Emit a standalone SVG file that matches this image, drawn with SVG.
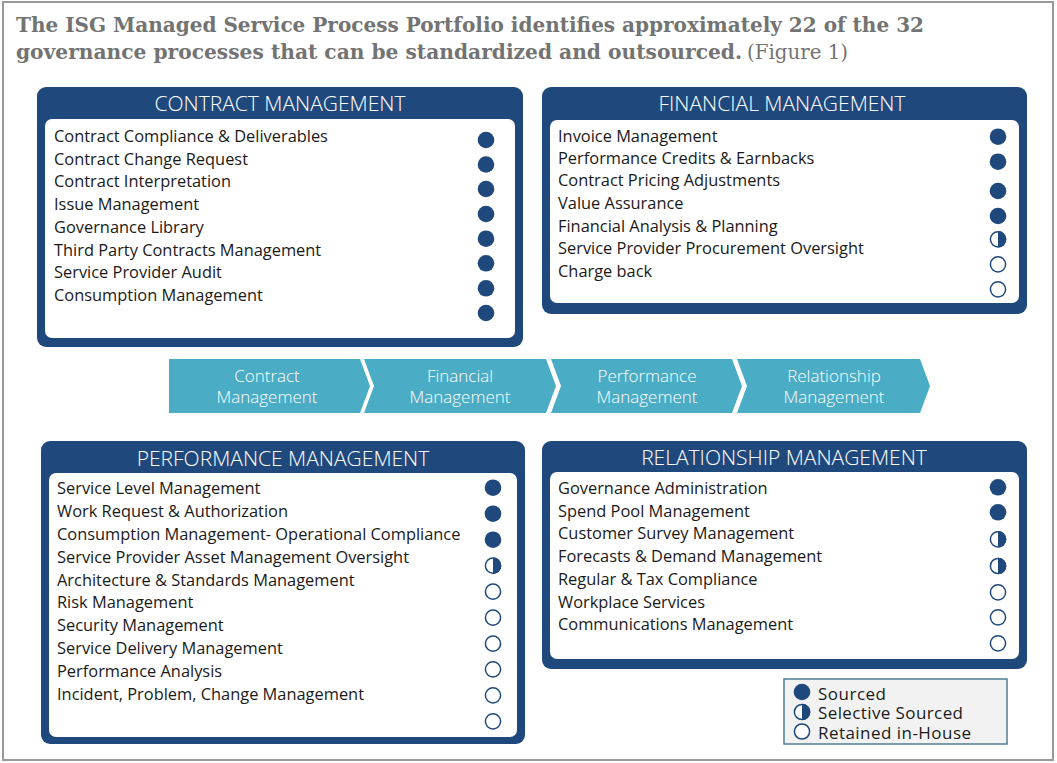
<svg xmlns="http://www.w3.org/2000/svg" xmlns:xlink="http://www.w3.org/1999/xlink" width="1057" height="763" viewBox="0 0 1057 763">
<style>
.frame{fill:#fff;stroke:#9a9a9a;stroke-width:2}
.title{font-family:"DejaVu Serif",serif;font-size:20.5px;fill:#737373;font-weight:bold}
.title .reg{font-weight:normal}
.box{fill:#1F497D}
.inner{fill:#fff}
.hd{font-family:"Open Sans",sans-serif;font-size:21px;fill:#fff;text-anchor:middle;font-weight:300}
.it{font-family:"Open Sans",sans-serif;font-size:16.4px;fill:#1a1a1a}
.f{fill:#1F497D}
.o{fill:#fff;stroke:#1F497D;stroke-width:1.5}
.chev{fill:#4BACC6}
.bt{font-family:"Open Sans",sans-serif;font-size:17px;fill:#fff;text-anchor:middle;font-weight:300}
.lgbox{fill:#f2f2f2;stroke:#4f7f90;stroke-width:1.5}
.lg{font-family:"Open Sans",sans-serif;font-size:17px;fill:#1a1a1a}
</style>
<defs>
<g id="full"><circle r="8.3" class="f"/></g>
<g id="half"><circle r="7.6" class="o"/><path d="M0,-8.3 A8.3,8.3 0 0 1 0,8.3 Z" class="f"/></g>
<g id="open"><circle r="7.6" class="o"/></g>
</defs>
<rect class="frame" x="3" y="2" width="1050" height="758"/>
<g id="title" class="title">
<text x="16" y="32" textLength="908" lengthAdjust="spacingAndGlyphs">The ISG Managed Service Process Portfolio identifies approximately 22 of the 32</text>
<text y="59"><tspan x="16" textLength="726" lengthAdjust="spacingAndGlyphs">governance processes that can be standardized and outsourced.</tspan><tspan class="reg" x="747" textLength="101" lengthAdjust="spacingAndGlyphs">(Figure 1)</tspan></text>
</g>
<g id="contract-management">
<rect class="box" x="37" y="87" width="486" height="260" rx="9"/>
<rect class="inner" x="45" y="119" width="470" height="219" rx="7"/>
<text class="hd" x="280" y="111">CONTRACT MANAGEMENT</text>
<g class="it">
<text x="54" y="141.7">Contract Compliance &amp; Deliverables</text>
<text x="54" y="164.5">Contract Change Request</text>
<text x="54" y="187.3">Contract Interpretation</text>
<text x="54" y="210">Issue Management</text>
<text x="54" y="232.8">Governance Library</text>
<text x="54" y="255.6">Third Party Contracts Management</text>
<text x="54" y="278.4">Service Provider Audit</text>
<text x="54" y="301">Consumption Management</text>
</g>
<use xlink:href="#full" x="486" y="140"/>
<use xlink:href="#full" x="486" y="164.5"/>
<use xlink:href="#full" x="486" y="189"/>
<use xlink:href="#full" x="486" y="214"/>
<use xlink:href="#full" x="486" y="238.7"/>
<use xlink:href="#full" x="486" y="263.3"/>
<use xlink:href="#full" x="486" y="288.3"/>
<use xlink:href="#full" x="486" y="313"/>
</g>
<g id="financial-management">
<rect class="box" x="542" y="87" width="485" height="227" rx="9"/>
<rect class="inner" x="550" y="120" width="469" height="183" rx="7"/>
<text class="hd" x="782" y="111">FINANCIAL MANAGEMENT</text>
<g class="it">
<text x="558" y="141.7">Invoice Management</text>
<text x="558" y="163.5">Performance Credits &amp; Earnbacks</text>
<text x="558" y="186">Contract Pricing Adjustments</text>
<text x="558" y="209">Value Assurance</text>
<text x="558" y="232">Financial Analysis &amp; Planning</text>
<text x="558" y="254.3">Service Provider Procurement Oversight</text>
<text x="558" y="276.7">Charge back</text>
</g>
<use xlink:href="#full" x="998" y="136.7"/>
<use xlink:href="#full" x="998" y="161.7"/>
<use xlink:href="#full" x="998" y="191"/>
<use xlink:href="#full" x="998" y="216"/>
<use xlink:href="#half" x="998" y="239.3"/>
<use xlink:href="#open" x="998" y="264.3"/>
<use xlink:href="#open" x="998" y="289.3"/>
</g>
<g id="process-band">
<g id="chevron-contract">
<path class="chev" d="M169,359 H360 L370,386 L360,413 H169 Z"/>
<text class="bt" x="267" y="382">Contract</text>
<text class="bt" x="267" y="403">Management</text>
</g>
<g id="chevron-financial">
<path class="chev" d="M364,359 H546 L556,386 L546,413 H364 L374,386 Z"/>
<text class="bt" x="460" y="382">Financial</text>
<text class="bt" x="460" y="403">Management</text>
</g>
<g id="chevron-performance">
<path class="chev" d="M551,359 H732 L742,386 L732,413 H551 L561,386 Z"/>
<text class="bt" x="647" y="382">Performance</text>
<text class="bt" x="647" y="403">Management</text>
</g>
<g id="chevron-relationship">
<path class="chev" d="M737,359 H920 L930,386 L920,413 H737 L747,386 Z"/>
<text class="bt" x="834" y="382">Relationship</text>
<text class="bt" x="834" y="403">Management</text>
</g>
</g>
<g id="performance-management">
<rect class="box" x="41" y="441" width="484" height="303" rx="9"/>
<rect class="inner" x="49" y="473" width="468" height="264" rx="7"/>
<text class="hd" x="283" y="466">PERFORMANCE MANAGEMENT</text>
<g class="it">
<text x="57" y="494">Service Level Management</text>
<text x="57" y="517">Work Request &amp; Authorization</text>
<text x="57" y="540">Consumption Management- Operational Compliance</text>
<text x="57" y="563">Service Provider Asset Management Oversight</text>
<text x="57" y="585.5">Architecture &amp; Standards Management</text>
<text x="57" y="608.3">Risk Management</text>
<text x="57" y="631">Security Management</text>
<text x="57" y="654">Service Delivery Management</text>
<text x="57" y="677">Performance Analysis</text>
<text x="57" y="699.5">Incident, Problem, Change Management</text>
</g>
<use xlink:href="#full" x="493" y="487.7"/>
<use xlink:href="#full" x="493" y="513.7"/>
<use xlink:href="#full" x="493" y="539.7"/>
<use xlink:href="#half" x="493" y="565.7"/>
<use xlink:href="#open" x="493" y="591.7"/>
<use xlink:href="#open" x="493" y="617.7"/>
<use xlink:href="#open" x="493" y="643.7"/>
<use xlink:href="#open" x="493" y="669.3"/>
<use xlink:href="#open" x="493" y="695.3"/>
<use xlink:href="#open" x="493" y="721.3"/>
</g>
<g id="relationship-management">
<rect class="box" x="542" y="441" width="485" height="228" rx="9"/>
<rect class="inner" x="550" y="472" width="469" height="187" rx="7"/>
<text class="hd" x="784" y="465">RELATIONSHIP MANAGEMENT</text>
<g class="it">
<text x="558" y="494">Governance Administration</text>
<text x="558" y="517">Spend Pool Management</text>
<text x="558" y="539">Customer Survey Management</text>
<text x="558" y="562">Forecasts &amp; Demand Management</text>
<text x="558" y="585">Regular &amp; Tax Compliance</text>
<text x="558" y="608">Workplace Services</text>
<text x="558" y="630">Communications Management</text>
</g>
<use xlink:href="#full" x="998" y="487.3"/>
<use xlink:href="#full" x="998" y="512.3"/>
<use xlink:href="#half" x="998" y="539.3"/>
<use xlink:href="#half" x="998" y="566"/>
<use xlink:href="#open" x="998" y="592.3"/>
<use xlink:href="#open" x="998" y="617.3"/>
<use xlink:href="#open" x="998" y="643.3"/>
</g>
<g id="legend">
<rect class="lgbox" x="784" y="679" width="223" height="65"/>
<use xlink:href="#full" x="802" y="692"/>
<use xlink:href="#half" x="802" y="712"/>
<use xlink:href="#open" x="802" y="731.5"/>
<text class="lg" x="818" y="699.5" textLength="68">Sourced</text>
<text class="lg" x="818" y="719" textLength="145">Selective Sourced</text>
<text class="lg" x="818" y="738.5" textLength="153">Retained in-House</text>
</g>
</svg>
